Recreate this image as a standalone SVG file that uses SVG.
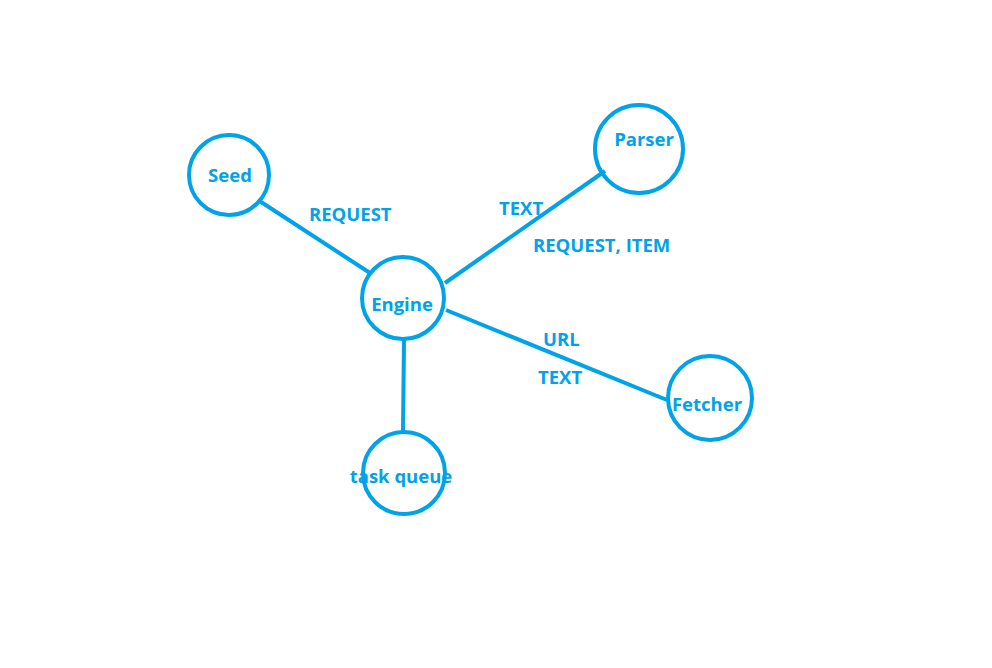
<svg xmlns="http://www.w3.org/2000/svg" width="992" height="668" viewBox="0 0 992 668">
<style>
.n{fill:none;stroke:#00A2E8;stroke-width:4}
.e{stroke:#00A2E8;stroke-width:4;fill:none}
text{font-family:"Open Sans","Noto Sans","DejaVu Sans",sans-serif;font-weight:bold;font-size:18.5px;fill:#00A2E8}
.c{text-anchor:middle}
</style>
<rect width="992" height="668" fill="#fff"/>
<g id="connectors">
<line class="e" x1="258" y1="200" x2="370" y2="273"/>
<line class="e" x1="445" y1="283" x2="605" y2="171"/>
<line class="e" x1="446" y1="310" x2="667" y2="400"/>
<line class="e" x1="404" y1="340" x2="403" y2="432"/>
<text x="309" y="221">REQUEST</text>
<text x="499" y="215">TEXT</text>
<text x="533" y="252">REQUEST, ITEM</text>
<text x="543" y="346">URL</text>
<text x="538" y="384">TEXT</text>
</g>
<g id="seed"><circle class="n" cx="229" cy="175" r="40"/><text class="c" x="230" y="182">Seed</text></g>
<g id="engine"><circle class="n" cx="403" cy="298" r="41"/><text class="c" x="402" y="311">Engine</text></g>
<g id="parser"><circle class="n" cx="639" cy="149" r="44"/><text class="c" x="644" y="146">Parser</text></g>
<g id="fetcher"><circle class="n" cx="710" cy="398" r="42"/><text class="c" x="707" y="411">Fetcher</text></g>
<g id="taskqueue"><circle class="n" cx="404" cy="473" r="41"/><text class="c" x="401" y="483">task queue</text></g>
</svg>
